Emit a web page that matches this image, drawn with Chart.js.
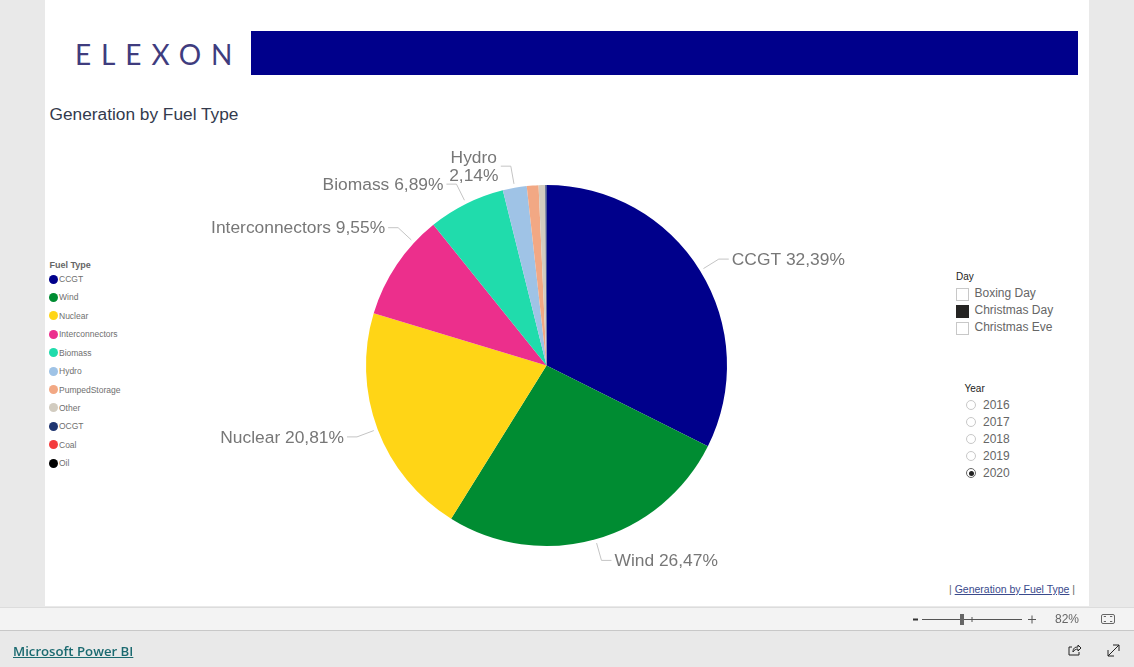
<!DOCTYPE html>
<html>
<head>
<meta charset="utf-8">
<title>Generation by Fuel Type</title>
<script src="https://cdn.jsdelivr.net/npm/chart.js@4"></script>
<style>
html, body { margin: 0; padding: 0; width: 1134px; height: 667px; overflow: hidden; background: #e9e9e9; font-family: "Liberation Sans", Arial, sans-serif; }
.abs { position: absolute; white-space: nowrap; }
#page { left: 45px; top: 0; width: 1044px; height: 606px; background: #fff; }
#banner { left: 251px; top: 31px; width: 827px; height: 44px; background: #00008b; }
#logo { left: 75px; top: 36px; font: 400 28px/36px Lato, sans-serif; letter-spacing: 9.9px; color: #3f3c7e; }
#title { left: 49.5px; top: 105px; font-size: 17.3px; line-height: 19px; color: #333a4d; }
#chartBox { left: 146px; top: 140px; width: 801px; height: 451px; }
#legendTitle { left: 49.5px; top: 259px; font-size: 9px; font-weight: bold; line-height: 12px; color: #666; }
.legItem { left: 49px; font-size: 8.5px; line-height: 12px; color: #6f6f6f; padding-left: 10px; }
.legItem i { position: absolute; left: 0; top: 1.5px; width: 9px; height: 9px; border-radius: 50%; }
.slTitle { font-size: 10px; line-height: 12px; color: #222; }
.slItem { font-size: 12px; line-height: 14px; color: #666; }
.box { width: 11px; height: 11px; border: 1px solid #c8c8c8; background: #fff; }
.box.on { background: #252423; border-color: #252423; }
.radio { width: 8px; height: 8px; border: 1px solid #c8c8c8; border-radius: 50%; background: #fff; }
.radio.on { border-color: #666; }
.radio.on::after { content: ""; position: absolute; left: 1.5px; top: 1.5px; width: 5px; height: 5px; border-radius: 50%; background: #222; }
#pageLink { left: 949px; top: 583px; font-size: 10.5px; line-height: 13px; color: #666; }
#pageLink u { color: #3a4a8c; }
#zoomBar { left: 0; top: 607px; width: 1134px; height: 22px; background: #f3f3f3; border-top: 1px solid #dcdcdc; border-bottom: 1px solid #c8c8c8; }
#powerbi { left: 13px; top: 642px; font: 600 13.2px/18px "Open Sans", sans-serif; color: #1b6a70; text-decoration: underline; }
</style>
</head>
<body>
<div class="abs" id="page"></div>
<div class="abs" id="banner"></div>
<div class="abs" id="logo">ELEXON</div>
<div class="abs" id="title">Generation by Fuel Type</div>
<div class="abs" id="chartBox"><canvas id="fuelChart"></canvas></div>
<div class="abs" id="legendTitle">Fuel Type</div>
<div id="legend"></div>
<div id="slicers"></div>
<div class="abs" id="pageLink">| <u>Generation by Fuel Type</u> |</div>
<div class="abs" id="zoomBar"></div>
<svg class="abs" style="left:0;top:0" width="1134" height="667" fill="none" stroke="#555">
    <path d="M913 619.5h5" stroke="#333" stroke-width="2"/>
    <path d="M922 619.5h100M1028 619.5h8M1032 615.5v8M972 617v5" stroke-width="1"/>
    <rect x="960" y="614" width="4" height="11" fill="#666" stroke="none"/>
    <rect x="1101.5" y="614.5" width="13" height="9" rx="1.5" stroke="#666"/>
    <path d="M1104 617v-.5h2M1112 617v-.5h-2M1104 621v.5h2M1112 621v.5h-2" stroke="#666"/>
    <path d="M1072 647h-3v8h10v-3M1073 652c0-4 2-5 5-5v-2l3 3-3 3v-2c-2 0-4 1-5 3z" stroke="#222"/>
    <path d="M1108 656l11-11M1113 645h6v6M1108 650v6h6" stroke="#222"/>
</svg>
<div class="abs" style="left:1055px;top:612px;font-size:12px;line-height:14px;color:#666">82%</div>
<div class="abs" id="powerbi">Microsoft Power BI</div>

<script>
const fuelTypes = ['CCGT', 'Wind', 'Nuclear', 'Interconnectors', 'Biomass', 'Hydro', 'PumpedStorage', 'Other', 'OCGT', 'Coal', 'Oil'];
const shares = [32.39, 26.47, 20.81, 9.55, 6.89, 2.14, 1.05, 0.6, 0.1, 0, 0];
const fuelColors = ['#00008b', '#008c32', '#ffd516', '#ec2f8c', '#20dcac', '#9fc3e6', '#f2a884', '#d2ccc0', '#1f3570', '#f43c3c', '#000000'];
const days = ['Boxing Day', 'Christmas Day', 'Christmas Eve'];
const selectedDay = 'Christmas Day';
const years = ['2016', '2017', '2018', '2019', '2020'];
const selectedYear = '2020';

// legend and slicers are plain html, the pie is the only canvas
const legendEl = document.getElementById('legend');
fuelTypes.forEach(function(name, i) {
    const row = document.createElement('div');
    row.className = 'abs legItem';
    row.style.top = (273 + i * 18.42) + 'px';
    row.innerHTML = '<i style="background:' + fuelColors[i] + '"></i>' + name;
    legendEl.appendChild(row);
});

function addAbs(parent, cls, left, top, text) {
    const el = document.createElement('div');
    el.className = 'abs ' + cls;
    el.style.left = left + 'px';
    el.style.top = top + 'px';
    if (text) el.textContent = text;
    parent.appendChild(el);
}
const slicers = document.getElementById('slicers');
addAbs(slicers, 'slTitle', 956, 271, 'Day');
days.forEach(function(d, i) {
    const y = 287 + i * 17;
    addAbs(slicers, 'box' + (d === selectedDay ? ' on' : ''), 956, y + 1);
    addAbs(slicers, 'slItem', 974.5, y - 1, d);
});
addAbs(slicers, 'slTitle', 964.5, 383, 'Year');
years.forEach(function(yr, i) {
    const y = 400 + i * 17;
    addAbs(slicers, 'radio' + (yr === selectedYear ? ' on' : ''), 966, y);
    addAbs(slicers, 'slItem', 983, y - 2, yr);
});

// Power BI moves the interconnectors callout away from the slice middle (radians)
const calloutShift = { Interconnectors: 0.155 };
const calloutLabels = {
    id: 'calloutLabels',
    afterDatasetsDraw(chart) {
        const ctx = chart.ctx;
        const arcs = chart.getDatasetMeta(0).data;
        ctx.save();
        ctx.font = '17.4px "Liberation Sans", Arial, sans-serif';
        ctx.textBaseline = 'middle';
        arcs.forEach(function(arc, i) {
            if (i > 5) return;
            const name = fuelTypes[i];
            const mid = (arc.startAngle + arc.endAngle) / 2 + (calloutShift[name] || 0);
            const rIn = arc.outerRadius + 4, rOut = arc.outerRadius + 22;
            const x1 = arc.x + Math.cos(mid) * rIn, y1 = arc.y + Math.sin(mid) * rIn;
            const x2 = arc.x + Math.cos(mid) * rOut, y2 = arc.y + Math.sin(mid) * rOut;
            const dir = Math.cos(mid) >= 0 ? 1 : -1;
            const x3 = x2 + dir * 10;
            ctx.strokeStyle = '#c4c4c4';
            ctx.lineWidth = 1;
            ctx.beginPath();
            ctx.moveTo(x1, y1);
            ctx.lineTo(x2, y2);
            ctx.lineTo(x3, y2);
            ctx.stroke();
            ctx.fillStyle = '#777777';
            const pct = shares[i].toFixed(2).replace('.', ',') + '%';
            if (name === 'Hydro') {
                // not enough room here so the label wraps over two lines
                ctx.textAlign = 'center';
                ctx.fillText(name, x3 - 27, y2 - 8);
                ctx.fillText(pct, x3 - 27, y2 + 10);
            } else {
                ctx.textAlign = dir > 0 ? 'left' : 'right';
                ctx.fillText(name + ' ' + pct, x3 + dir * 3, y2 + 1);
            }
        });
        ctx.restore();
    }
};

new Chart(document.getElementById('fuelChart'), {
    type: 'pie',
    data: {
        labels: fuelTypes,
        datasets: [{
            data: shares,
            backgroundColor: fuelColors,
            borderWidth: 0
        }]
    },
    options: {
        responsive: true,
        maintainAspectRatio: false,
        animation: false,
        layout: { padding: 45 },
        plugins: {
            legend: { display: false },
            tooltip: { enabled: false }
        }
    },
    plugins: [calloutLabels]
});
</script>
</body>
</html>
